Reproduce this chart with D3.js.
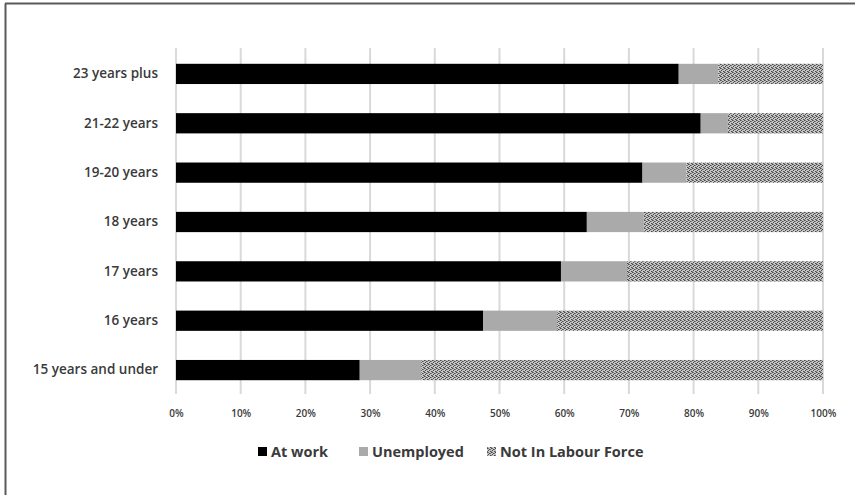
<!DOCTYPE html>
<html><head><meta charset="utf-8">
<script src="https://cdn.jsdelivr.net/npm/d3@7"></script>
<style>body{margin:0;background:#fff}svg{display:block}</style>
</head><body>
<svg id="chart" width="855" height="495"></svg>
<script>
const categories = ["23 years plus","21-22 years","19-20 years","18 years","17 years","16 years","15 years and under"];
const atWork     = [77.7, 81.1, 72.1, 63.5, 59.5, 47.5, 28.4];
const unemployed = [6.1, 4.2, 6.8, 8.8, 10.2, 11.4, 9.5];
const notInLF    = [16.2, 14.7, 21.1, 27.7, 30.3, 41.1, 62.1];
const seriesNames = ["At work","Unemployed","Not In Labour Force"];
const xTicks = [0,10,20,30,40,50,60,70,80,90,100];

const svg = d3.select("#chart");
const defs = svg.append("defs");
const pat = defs.append("pattern").attr("id","hatch").attr("patternUnits","userSpaceOnUse")
  .attr("width",4).attr("height",4);
pat.append("rect").attr("width",4).attr("height",4).attr("fill","#c6c6c6");
[[0,0],[2,1],[1,2],[3,3],[3,1],[1,0],[0,3]].forEach(([px,py],i)=>{
  pat.append("rect").attr("x",px).attr("y",py).attr("width",1).attr("height",1)
    .attr("fill", i<4 ? "#4a4a4a" : "#7a7a7a");
});

// frame
svg.append("line").attr("x1",5.5).attr("x2",5.5).attr("y1",3.5).attr("y2",495).attr("stroke","#5a5a5a").attr("stroke-width",2);
svg.append("line").attr("x1",5).attr("x2",855).attr("y1",3.5).attr("y2",3.5).attr("stroke","#5a5a5a").attr("stroke-width",2);

const x = d3.scaleLinear().domain([0,100]).range([176,823]);
const y = d3.scaleBand().domain(categories).range([48,396]).paddingInner(0.59).paddingOuter(0.32);

// gridlines
svg.append("g").selectAll("line").data(xTicks).join("line")
  .attr("x1",d=>x(d)).attr("x2",d=>x(d)).attr("y1",48).attr("y2",394)
  .attr("stroke","#d9d9d9").attr("stroke-width",2);

const colors = ["#000000","#aaaaaa","url(#hatch)"];
const data = categories.map((c,i)=>({cat:c, vals:[atWork[i],unemployed[i],notInLF[i]]}));
const stacked = d3.stack().keys([0,1,2]).value((d,k)=>d.vals[k])(data);

svg.append("g").selectAll("g").data(stacked).join("g")
  .attr("fill",(s,i)=>colors[i])
  .selectAll("rect").data(s=>s).join("rect")
  .attr("x",d=>x(d[0])).attr("width",d=>x(d[1])-x(d[0]))
  .attr("y",d=>y(d.data.cat)).attr("height",y.bandwidth());

// y axis labels
const yAxis = svg.append("g").attr("transform","translate(176,0)")
  .call(d3.axisLeft(y).tickSize(0).tickPadding(18));
yAxis.select(".domain").remove();
yAxis.selectAll("text").attr("font-family","'Open Sans', sans-serif").attr("font-weight","600")
  .attr("font-size",13.5).attr("fill","#3a3a3a");

// x axis labels
const xAxis = svg.append("g").attr("transform","translate(0,396)")
  .call(d3.axisBottom(x).tickValues(xTicks).tickFormat(d=>d+"%").tickSize(0).tickPadding(14));
xAxis.select(".domain").remove();
xAxis.selectAll("text").attr("font-family","'Open Sans', sans-serif").attr("font-weight","600")
  .attr("font-size",10).attr("fill","#3a3a3a");

// legend
const legX = [258, 359, 487];
const leg = svg.append("g").selectAll("g").data(seriesNames).join("g")
  .attr("transform",(d,i)=>`translate(${legX[i]},452)`);
leg.append("rect").attr("x",0).attr("y",-5).attr("width",9).attr("height",9).attr("fill",(d,i)=>colors[i]);
leg.append("text").attr("x",13).attr("y",0).attr("dy","0.35em").text(d=>d)
  .attr("font-family","'Open Sans', sans-serif").attr("font-weight","700").attr("font-size",14.5).attr("fill","#3a3a3a");
</script>
</body></html>
